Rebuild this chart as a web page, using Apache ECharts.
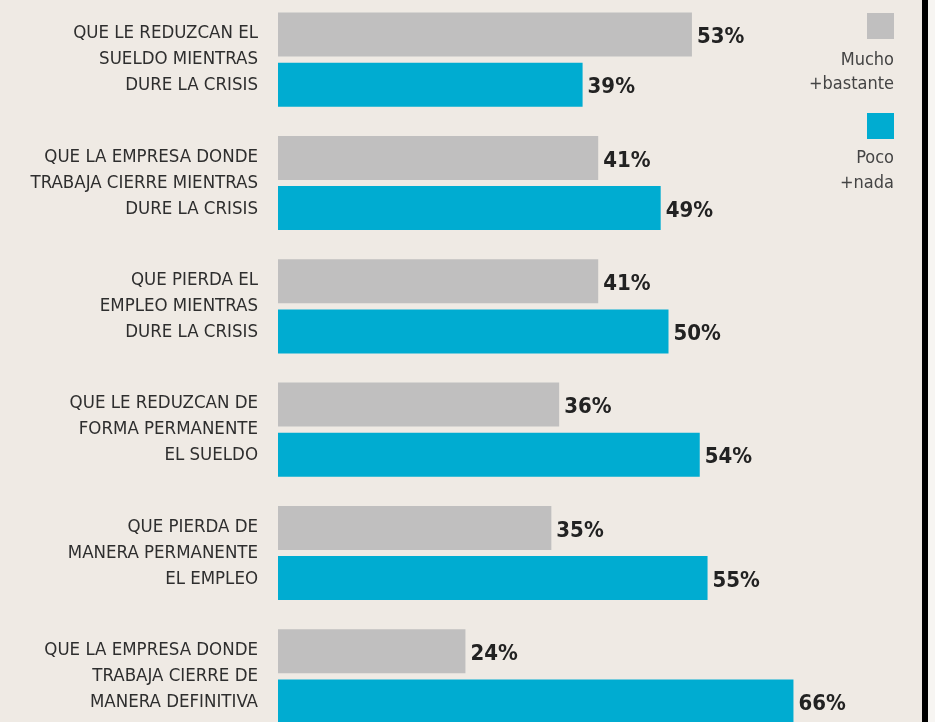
<!DOCTYPE html>
<html>
<head>
<meta charset="utf-8">
<script src="https://cdn.jsdelivr.net/npm/echarts@6/dist/echarts.min.js"></script>
<style>
html,body{margin:0;padding:0;background:#efeae4;}
#c{width:935px;height:722px;}
</style>
</head>
<body>
<div id="c"></div>
<script>
const categories = [
  "QUE LE REDUZCAN EL\nSUELDO MIENTRAS\nDURE LA CRISIS",
  "QUE LA EMPRESA DONDE\nTRABAJA CIERRE MIENTRAS\nDURE LA CRISIS",
  "QUE PIERDA EL\nEMPLEO MIENTRAS\nDURE LA CRISIS",
  "QUE LE REDUZCAN DE\nFORMA PERMANENTE\nEL SUELDO",
  "QUE PIERDA DE\nMANERA PERMANENTE\nEL EMPLEO",
  "QUE LA EMPRESA DONDE\nTRABAJA CIERRE DE\nMANERA DEFINITIVA"
];
const seriesNames = ["Mucho\n+bastante", "Poco\n+nada"];
const muchoBastante = [53, 41, 41, 36, 35, 24];
const pocoNada = [39, 49, 50, 54, 55, 66];

const FONT = "'Liberation Sans Narrow', 'DejaVu Sans Condensed', 'Arial Narrow', sans-serif";
const GRAY = '#c0bfbf';
const BLUE = '#00acd1';

const chart = echarts.init(document.getElementById('c'));
const valueLabel = {
  show: true,
  position: 'right',
  distance: 5,
  offset: [0, 3],
  formatter: '{c}%',
  fontFamily: FONT,
  fontWeight: 'bold',
  fontSize: 22,
  color: '#222'
};
chart.setOption({
  backgroundColor: '#efeae4',
  animation: false,
  grid: { left: 278, top: -2, width: 781, height: 740, containLabel: false, outerBoundsMode: 'none' },
  xAxis: {
    type: 'value', min: 0, max: 100,
    show: false
  },
  yAxis: {
    type: 'category',
    data: categories,
    inverse: true,
    axisLine: { show: false },
    axisTick: { show: false },
    splitLine: { show: false },
    axisLabel: {
      margin: 20,
      align: 'right',
      fontFamily: FONT,
      fontSize: 18.5,
      lineHeight: 26,
      color: '#2e2e2e'
    }
  },
  series: [
    {
      name: seriesNames[0], type: 'bar', data: muchoBastante,
      barWidth: 44, barGap: '14%',
      itemStyle: { color: GRAY },
      label: valueLabel
    },
    {
      name: seriesNames[1], type: 'bar', data: pocoNada,
      barWidth: 44, barGap: '14%',
      itemStyle: { color: BLUE },
      label: valueLabel
    }
  ],
  graphic: [
    { type: 'rect', shape: { x: 867, y: 13, width: 27, height: 26 }, style: { fill: GRAY } },
    { type: 'text', x: 894, y: 60, style: { text: 'Mucho', align: 'right', verticalAlign: 'middle', font: '18px ' + FONT, fill: '#444' } },
    { type: 'text', x: 894, y: 84, style: { text: '+bastante', align: 'right', verticalAlign: 'middle', font: '18px ' + FONT, fill: '#444' } },
    { type: 'rect', shape: { x: 867, y: 113, width: 27, height: 26 }, style: { fill: BLUE } },
    { type: 'text', x: 894, y: 158, style: { text: 'Poco', align: 'right', verticalAlign: 'middle', font: '18px ' + FONT, fill: '#444' } },
    { type: 'text', x: 894, y: 183, style: { text: '+nada', align: 'right', verticalAlign: 'middle', font: '18px ' + FONT, fill: '#444' } },
    { type: 'rect', shape: { x: 922, y: 0, width: 6, height: 722 }, style: { fill: '#000' } },
    { type: 'rect', shape: { x: 928, y: 0, width: 7, height: 722 }, style: { fill: '#f7f5f2' } }
  ]
});
</script>
</body>
</html>
